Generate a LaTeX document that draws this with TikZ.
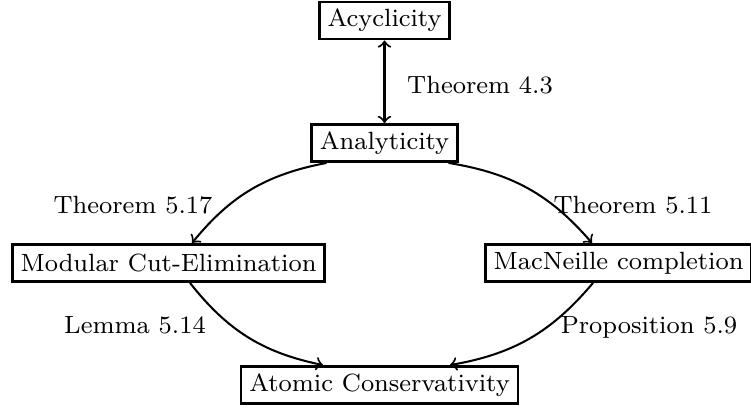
\documentclass[tikz,border=0pt]{standalone}
\usetikzlibrary{calc}
\begin{document}
\begin{tikzpicture}[x=0.321pt,y=0.321pt,
  box/.style={draw,line width=0.8pt,font=\footnotesize,minimum height=12pt,inner xsep=2.6pt,inner ysep=0pt},
  lbl/.style={font=\footnotesize,inner sep=0pt},
  conn/.style={line width=0.65pt}]
\useasboundingbox (0,0) rectangle (751,408);
\node[box] (acy) at (384.5,387.5) {Acyclicity};
\node[box] (ana) at (384.5,265) {Analyticity};
\node[box] (mod) at (168.5,145) {Modular Cut-Elimination};
\node[box] (mac) at (618.5,145) {MacNeille completion};
\node[box] (ato) at (379.5,23) {Atomic Conservativity};
\node[lbl] (l1) at (480,323) {Theorem 4.3};
\node[lbl] (l2) at (133,203) {Theorem 5.17};
\node[lbl] (l3) at (633,203) {Theorem 5.11};
\node[lbl] (l4) at (135,83) {Lemma 5.14};
\node[lbl] (l5) at (649,81) {Proposition 5.9};
\draw[conn,to-to] (acy) -- (ana);
\draw[conn,-to] ($(ana.south west)+(16,0)$) to[bend right=20] ($(mod.north)+(23.5,0)$);
\draw[conn,-to] ($(ana.south east)+(-10,0)$) to[bend left=20] ($(mac.north)+(-26.5,0)$);
\draw[conn,-to] ($(mod.south)+(21.5,0)$) to[bend right=20] ($(ato.north)+(-56.5,0)$);
\draw[conn,-to] ($(mac.south)+(-25.5,0)$) to[bend left=20] ($(ato.north)+(70.5,0)$);
\end{tikzpicture}
\end{document}
